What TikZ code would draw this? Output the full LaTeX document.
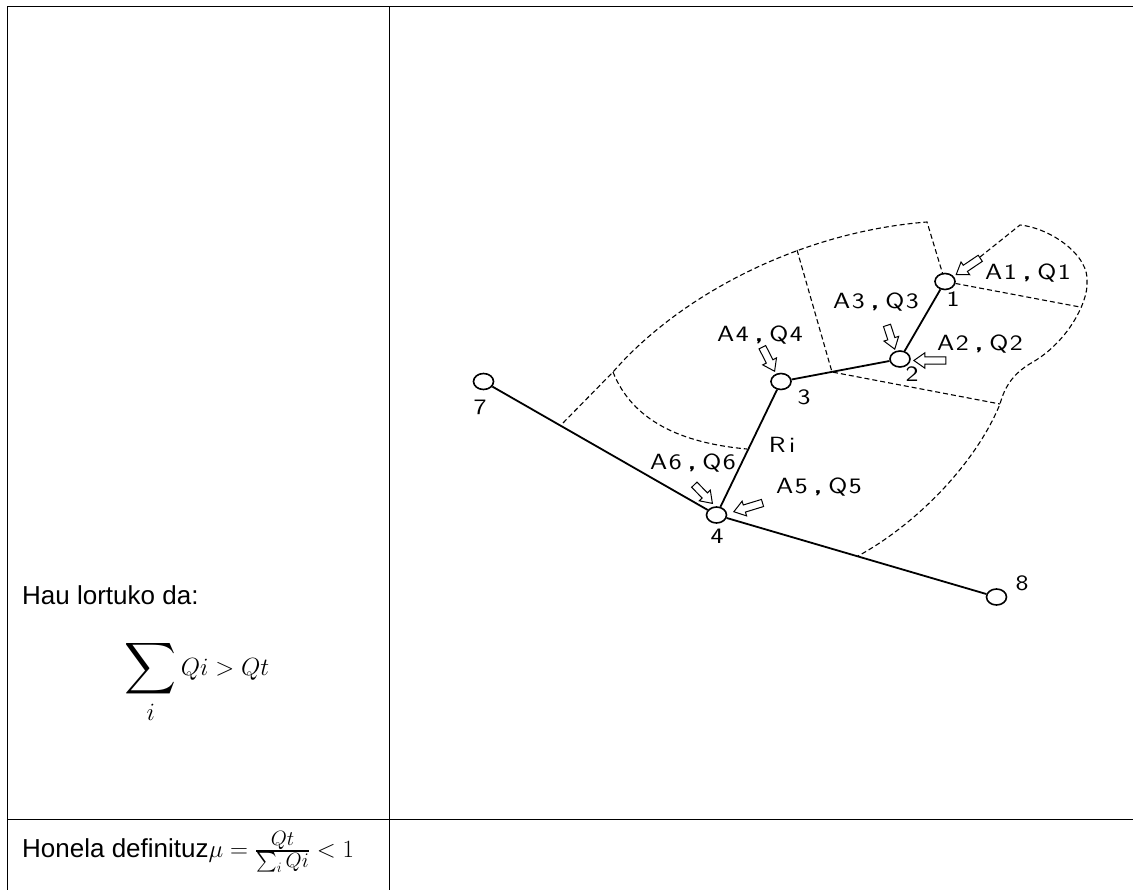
\documentclass[tikz,border=0pt]{standalone}
\usepackage{amsmath,amssymb}
\usepackage{fontspec}
\setmainfont{Liberation Sans}
\newfontfamily\cadfont[FakeStretch=1.25,LetterSpace=7]{Latin Modern Sans}
\usetikzlibrary{positioning,calc,shapes.geometric,shapes.arrows}

\begin{document}
\begin{tikzpicture}[x=1pt,y=-1pt,
  manhole/.style={draw, ellipse, minimum width=20pt, minimum height=16pt, inner sep=0pt, fill=white, line width=1.6pt},
  pipe/.style={line width=1.8pt},
  limit/.style={dashed, dash pattern=on 5pt off 3pt, line width=1.1pt},
  rule/.style={line width=1pt},
  inflow/.style={draw, single arrow, anchor=tip, inner sep=3.2pt, single arrow head extend=4pt, single arrow tip angle=70, line width=1pt, fill=white, rotate=#1},
  cad/.style={font=\cadfont\fontsize{22}{25}\selectfont, inner sep=0pt},
  txt/.style={font=\fontsize{26}{30}\selectfont, inner sep=0pt, anchor=west}
]
\useasboundingbox (0,0) rectangle (1133,890);
\coordinate (tl) at (7,7);
\coordinate (tr) at (1133,7);
\coordinate (bl) at (7,890);
\coordinate (tm) at (389,7);
\coordinate (bm) at (389,890);
\coordinate (ml) at (7,819);
\coordinate (mr) at (1133,819);
\draw[rule] (bl) -- (tl) -- (tr);
\draw[rule] (tm) -- (bm);
\draw[rule] (ml) -- (mr);
\node[txt] (hau) at (22,595) {Hau lortuko da:};
\node[txt, font=\fontsize{36}{40}\selectfont, anchor=center] (sumf) at (197,682) {$\displaystyle\sum_i Qi > Qt$};
\node[txt] (hon) at (22,852) {Honela definituz{\fontsize{28}{30}\selectfont$\mu=\frac{Qt}{\sum_i Qi}<1$}};

\coordinate (j7) at (563,423);
\coordinate (j7b) at (613,372);
\coordinate (top) at (927,222);
\coordinate (jtop) at (797,250);
\coordinate (j32) at (832,372);
\coordinate (jr) at (1000,404);
\coordinate (j12) at (1080,307);
\coordinate (j48) at (858,556);
\coordinate (j34) at (747,449);
\coordinate (lobea) at (980,257);
\coordinate (lobeb) at (1020,225);
\coordinate (lobec) at (1087,283);
\coordinate (lobed) at (1033,362);

\node[manhole] (n1) at (945,281.5) {};
\node[manhole] (n2) at (900,359) {};
\node[manhole] (n3) at (781,381.5) {};
\node[manhole] (n4) at (716.5,515) {};
\node[manhole] (n7) at (483.5,381.5) {};
\node[manhole] (n8) at (996.5,597) {};

\draw[limit] (j7) -- (j7b) .. controls (680,295) and (800,232) .. (top) -- (n1);
\draw[limit] (jtop) -- (j32) -- (jr);
\draw[limit] (n1) -- (j12);
\draw[limit] (j7b) .. controls (632,420) and (680,443) .. (j34);
\draw[limit] (lobea) -- (lobeb) .. controls (1050,228) and (1090,255) .. (lobec)
  .. controls (1088,300) and (1070,340) .. (lobed)
  .. controls (1015,372) and (1005,385) .. (jr)
  .. controls (975,465) and (915,525) .. (j48);

\draw[pipe] (n1) -- (n2);
\draw[pipe] (n2) -- (n3);
\draw[pipe] (n3) -- (n4);
\draw[pipe] (n7) -- (n4);
\draw[pipe] (n4) -- (n8);

\node[inflow=214, minimum height=29pt] (q1) at (955.5,275) {};
\node[inflow=180, minimum height=32pt] (q2) at (913,360.5) {};
\node[inflow=-72, minimum height=25pt] (q3) at (895,350) {};
\node[inflow=-63, minimum height=27pt] (q4) at (775,372) {};
\node[inflow=197, minimum height=30pt] (q5) at (733,512) {};
\node[inflow=-46, minimum height=26pt] (q6) at (713,504) {};

\node[cad] (l1) at (1028,273) {A1\;{\bfseries,}\;Q1};
\node[cad] (l2) at (980,344) {A2\;{\bfseries,}\;Q2};
\node[cad] (l3) at (876,302) {A3\;{\bfseries,}\;Q3};
\node[cad] (l4) at (760,335) {A4\;{\bfseries,}\;Q4};
\node[cad] (l5) at (819,487) {A5\;{\bfseries,}\;Q5};
\node[cad] (l6) at (693,463) {A6\;{\bfseries,}\;Q6};
\node[cad] (ri) at (782,445) {R\,i};
\node[cad] (t1) at (953,299) {1};
\node[cad] (t2) at (912,374) {2};
\node[cad] (t3) at (804,397) {3};
\node[cad] (t4) at (717,536) {4};
\node[cad] (t7) at (480,407) {7};
\node[cad] (t8) at (1022,583) {8};
\end{tikzpicture}
\end{document}
